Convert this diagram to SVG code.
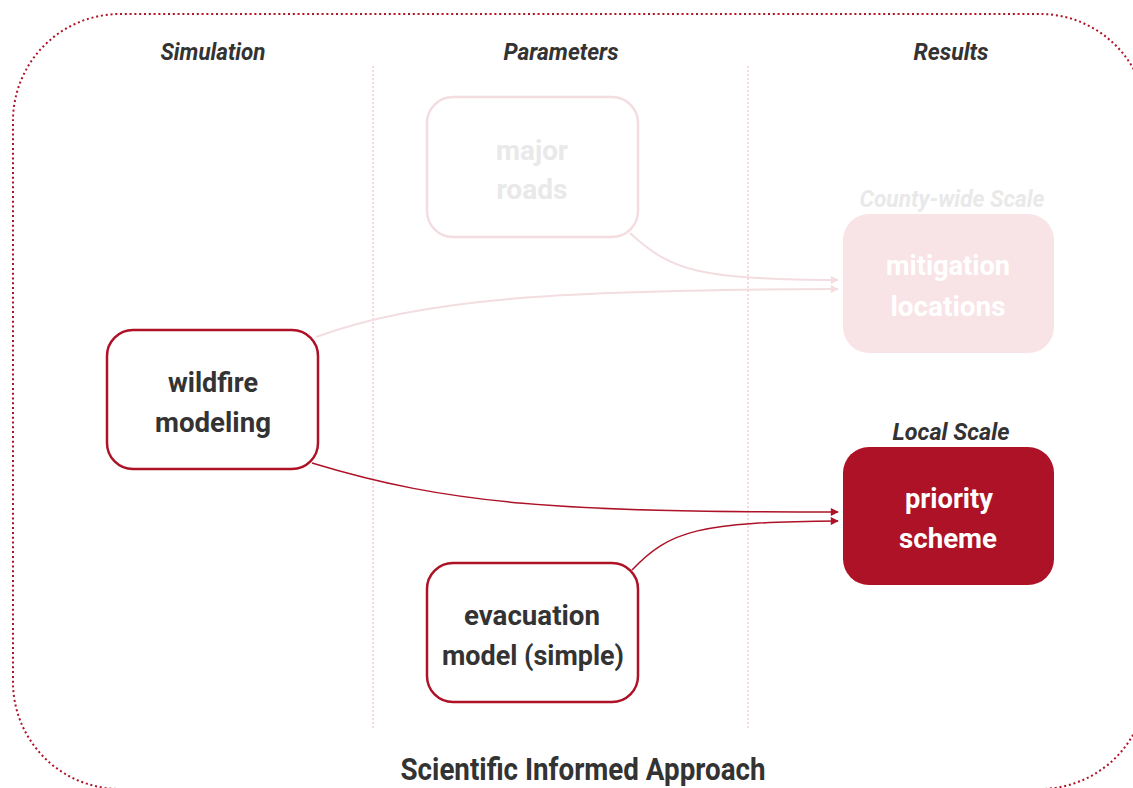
<svg xmlns="http://www.w3.org/2000/svg" width="1133" height="788" viewBox="0 0 1133 788">
<defs>
<style>
.frame{fill:none;stroke:#b01227;stroke-width:2;stroke-dasharray:2 2.8}
.divider{fill:none;stroke:#ecb3ba;stroke-width:1;stroke-dasharray:2 2}
.hdr{font-family:Roboto,"Liberation Sans",sans-serif;font-weight:bold;font-style:italic;font-size:23px;fill:#333;text-anchor:middle}
.lbl{font-family:Roboto,"Liberation Sans",sans-serif;font-weight:bold;font-size:28px;text-anchor:middle}
.dark{fill:#333}
.white{fill:#fff}
.pale{fill:#e9e9e9}
.boxR{fill:#fff;stroke:#ad1227;stroke-width:2.5}
.boxP{fill:#fff;stroke:#f4dde0;stroke-width:2.5}
.conR{fill:none;stroke:#ad1227;stroke-width:1.5}
.conP{fill:none;stroke:#f3dde0;stroke-width:2}
</style>
<marker id="arrR" viewBox="0 0 10 10" refX="9" refY="5" markerWidth="11" markerHeight="8" markerUnits="userSpaceOnUse" orient="auto"><path d="M0,0 L10,5 L0,10 z" fill="#ad1227"/></marker>
<marker id="arrP" viewBox="0 0 10 10" refX="9" refY="5" markerWidth="11" markerHeight="8" markerUnits="userSpaceOnUse" orient="auto"><path d="M0,0 L10,5 L0,10 z" fill="#f3dde0"/></marker>
</defs>
<rect class="frame" x="13" y="14" width="1134" height="775" rx="107" ry="107"/>
<line class="divider" x1="373" y1="66" x2="373" y2="728"/>
<line class="divider" x1="748" y1="66" x2="748" y2="728"/>
<text class="hdr" x="213" y="60" textLength="105" lengthAdjust="spacingAndGlyphs">Simulation</text>
<text class="hdr" x="561" y="60" textLength="115" lengthAdjust="spacingAndGlyphs">Parameters</text>
<text class="hdr" x="951" y="60" textLength="75" lengthAdjust="spacingAndGlyphs">Results</text>
<g id="connectors">
<path class="conP" d="M316,337 C420,298 560,290 838,289" marker-end="url(#arrP)"/>
<path class="conP" d="M630,233 C672,272 700,279 838,280" marker-end="url(#arrP)"/>
<path class="conR" d="M312,463 C450,505 560,512 838,512" marker-end="url(#arrR)"/>
<path class="conR" d="M632,570 C670,530 700,522 838,521" marker-end="url(#arrR)"/>
</g>
<g id="major-roads">
<rect class="boxP" x="427" y="97" width="211" height="140" rx="26"/>
<text class="lbl pale" x="532" y="160" textLength="72" lengthAdjust="spacingAndGlyphs">major</text>
<text class="lbl pale" x="532" y="199" textLength="71" lengthAdjust="spacingAndGlyphs">roads</text>
</g>
<g id="mitigation-locations">
<text class="hdr" x="952" y="207" style="fill:#e9e9e9" textLength="185" lengthAdjust="spacingAndGlyphs">County-wide Scale</text>
<rect x="843" y="214" width="211" height="139" rx="26" fill="#f8e4e6"/>
<text class="lbl white" x="948" y="275" textLength="124" lengthAdjust="spacingAndGlyphs">mitigation</text>
<text class="lbl white" x="948" y="316" textLength="115" lengthAdjust="spacingAndGlyphs">locations</text>
</g>
<g id="wildfire-modeling">
<rect class="boxR" x="107" y="330" width="211" height="139" rx="26"/>
<text class="lbl dark" x="213" y="392" textLength="90" lengthAdjust="spacingAndGlyphs">wildfire</text>
<text class="lbl dark" x="213" y="432" textLength="116" lengthAdjust="spacingAndGlyphs">modeling</text>
</g>
<g id="priority-scheme">
<text class="hdr" x="951" y="440" textLength="117" lengthAdjust="spacingAndGlyphs">Local Scale</text>
<rect x="843" y="447" width="211" height="138" rx="26" fill="#ad1227"/>
<text class="lbl white" x="949" y="508" textLength="88" lengthAdjust="spacingAndGlyphs">priority</text>
<text class="lbl white" x="948" y="548" textLength="98" lengthAdjust="spacingAndGlyphs">scheme</text>
</g>
<g id="evacuation-model">
<rect class="boxR" x="427" y="563" width="211" height="139" rx="26"/>
<text class="lbl dark" x="532" y="625" textLength="136" lengthAdjust="spacingAndGlyphs">evacuation</text>
<text class="lbl dark" x="533" y="665" textLength="182" lengthAdjust="spacingAndGlyphs">model (simple)</text>
</g>
<text x="583" y="780" font-family="Roboto,'Liberation Sans',sans-serif" font-weight="bold" font-size="32" fill="#333" text-anchor="middle" textLength="365" lengthAdjust="spacingAndGlyphs">Scientific Informed Approach</text>
</svg>
